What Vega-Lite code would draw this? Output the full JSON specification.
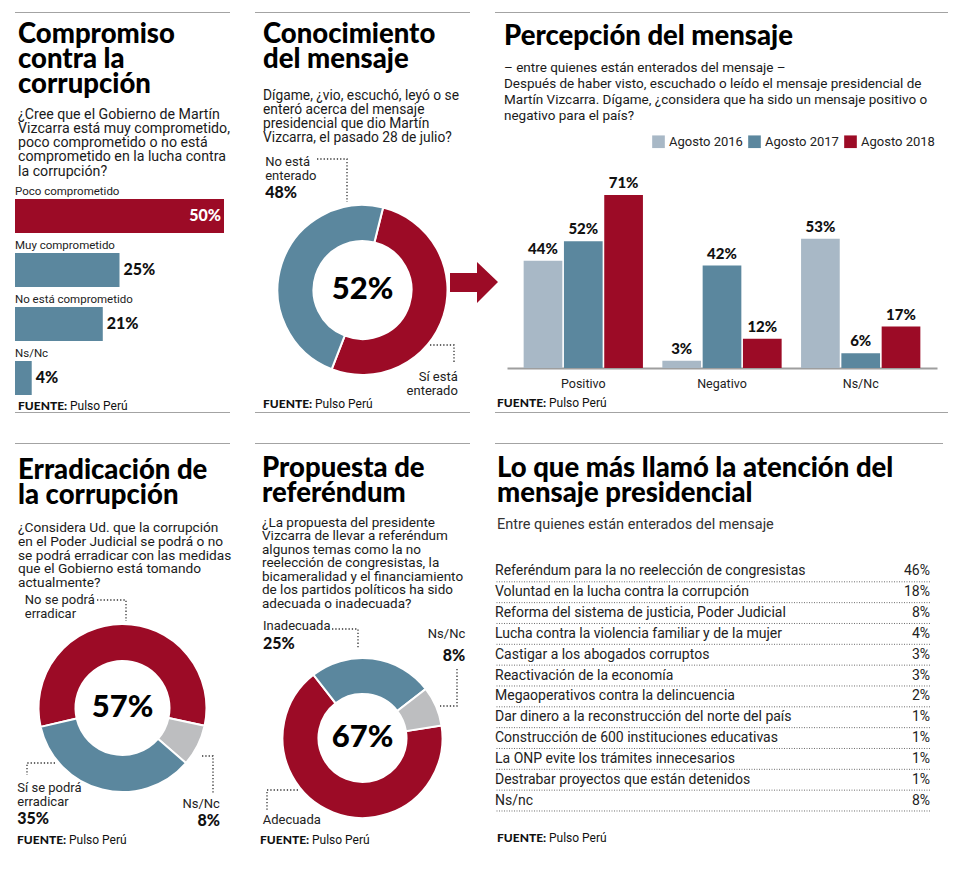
{
  "$schema": "https://vega.github.io/schema/vega-lite/v6.json",
  "background": "white",
  "padding": {"left": 15, "top": 12, "right": 0, "bottom": 0},
  "config": {
    "view": {"stroke": null},
    "font": "Roboto",
    "title": {"font": "Lato", "fontWeight": 900, "fontSize": 27.5, "lineHeight": 25, "color": "#000000", "anchor": "start", "frame": "group", "subtitleFont": "Roboto", "subtitleFontSize": 13.5, "subtitleColor": "#1a1a1a"},
    "text": {"font": "Roboto", "color": "#1a1a1a"},
    "axis": {"title": null, "ticks": false, "grid": false, "domainColor": "#9e9e9e", "domainWidth": 2, "labelFont": "Roboto", "labelFontSize": 12.5, "labelColor": "#222222", "labelPadding": 9, "labelAngle": 0}
  },
  "resolve": {"scale": {"color": "independent", "theta": "independent"}, "legend": {"color": "independent"}},
  "spacing": 30,
  "vconcat": [
    {
      "spacing": 0,
      "resolve": {"scale": {"color": "independent", "theta": "independent"}, "legend": {"color": "independent"}},
      "vconcat": [
        {
          "spacing": 7,
          "resolve": {"scale": {"color": "independent", "theta": "independent"}, "legend": {"color": "independent"}},
          "vconcat": [
            {
              "spacing": 25,
              "hconcat": [
                {"width": 215, "height": 1, "data": {"values": [{}]}, "mark": {"type": "rect", "color": "#a3a3a3"}, "encoding": {}},
                {"width": 215, "height": 1, "data": {"values": [{}]}, "mark": {"type": "rect", "color": "#a3a3a3"}, "encoding": {}},
                {"width": 453, "height": 1, "data": {"values": [{}]}, "mark": {"type": "rect", "color": "#a3a3a3"}, "encoding": {}}
              ]
            },
            {
              "spacing": 25,
              "bounds": "flush",
              "resolve": {"scale": {"color": "independent", "theta": "independent"}, "legend": {"color": "independent"}},
              "hconcat": [
                {
                  "width": 215,
                  "height": 231,
                  "title": {
                    "text": ["Compromiso", "contra la", "corrupción"],
                    "subtitle": ["¿Cree que el Gobierno de Martín", "Vizcarra está muy comprometido,", "poco comprometido o no está", "comprometido en la lucha contra", "la corrupción?"],
                    "subtitleFontSize": 14.2,
                    "subtitlePadding": 9.5,
                    "subtitleLineHeight": 14.3,
                    "offset": 2,
                    "dx": 3
                  },
                  "data": {"values": [
                    {"cat": "Poco comprometido", "pct": 0.50, "hi": "si"},
                    {"cat": "Muy comprometido", "pct": 0.25, "hi": "no"},
                    {"cat": "No está comprometido", "pct": 0.21, "hi": "no"},
                    {"cat": "Ns/Nc", "pct": 0.04, "hi": "no"}
                  ]},
                  "layer": [
                    {
                      "mark": {"type": "bar", "height": 34, "yOffset": 8},
                      "encoding": {
                        "y": {"field": "cat", "type": "nominal", "sort": null, "axis": null, "scale": {"range": [0, 216], "paddingInner": 0, "paddingOuter": 0}},
                        "x": {"field": "pct", "type": "quantitative", "axis": null, "scale": {"domain": [0, 0.5], "range": [0, 209]}},
                        "color": {"field": "hi", "type": "nominal", "legend": null, "scale": {"domain": ["si", "no"], "range": ["#9c0b26", "#5b879e"]}}
                      }
                    },
                    {
                      "mark": {"type": "text", "align": "left", "baseline": "middle", "dy": -16, "fontSize": 11.5, "color": "#222222"},
                      "encoding": {
                        "y": {"field": "cat", "type": "nominal", "sort": null},
                        "x": {"value": 0},
                        "text": {"field": "cat", "type": "nominal"}
                      }
                    },
                    {
                      "transform": [{"filter": "datum.pct >= 0.5"}],
                      "mark": {"type": "text", "align": "right", "baseline": "middle", "dx": -3, "yOffset": 8, "font": "Lato", "fontWeight": 900, "fontSize": 16, "color": "white"},
                      "encoding": {
                        "y": {"field": "cat", "type": "nominal", "sort": null},
                        "x": {"field": "pct", "type": "quantitative"},
                        "text": {"field": "pct", "type": "quantitative", "format": ".0%"}
                      }
                    },
                    {
                      "transform": [{"filter": "datum.pct < 0.5"}],
                      "mark": {"type": "text", "align": "left", "baseline": "middle", "dx": 4, "yOffset": 8, "font": "Lato", "fontWeight": 900, "fontSize": 16, "color": "#111111"},
                      "encoding": {
                        "y": {"field": "cat", "type": "nominal", "sort": null},
                        "x": {"field": "pct", "type": "quantitative"},
                        "text": {"field": "pct", "type": "quantitative", "format": ".0%"}
                      }
                    },
                    {
                      "data": {"values": [{}]},
                      "mark": {"type": "text", "text": "FUENTE:", "font": "Lato", "fontWeight": 900, "fontSize": 12, "align": "left", "baseline": "middle", "dx": 3, "dy": -6, "color": "#111111"},
                      "encoding": {"x": {"value": 0}, "y": {"value": "height"}}
                    },
                    {
                      "data": {"values": [{}]},
                      "mark": {"type": "text", "text": "Pulso Perú", "fontSize": 12, "align": "left", "baseline": "middle", "dx": 55, "dy": -6, "color": "#111111"},
                      "encoding": {"x": {"value": 0}, "y": {"value": "height"}}
                    }
                  ]
                },
                {
                  "width": 215,
                  "height": 218,
                  "title": {
                    "text": ["Conocimiento", "del mensaje"],
                    "subtitle": ["Dígame, ¿vio, escuchó, leyó o se", "enteró acerca del mensaje", "presidencial que dio Martín", "Vizcarra, el pasado 28 de julio?"],
                    "subtitleFontSize": 13.8,
                    "subtitlePadding": 15.5,
                    "subtitleLineHeight": 14,
                    "offset": 11,
                    "dx": 8
                  },
                  "data": {"values": [
                    {"k": "si", "pct": 0.52, "n": 1, "lab": "Sí está\nenterado"},
                    {"k": "no", "pct": 0.48, "n": 2, "lab": "No está\nenterado"}
                  ]},
                  "layer": [
                    {
                      "mark": {"type": "arc", "innerRadius": 49, "outerRadius": 85, "stroke": "white", "strokeWidth": 2},
                      "encoding": {
                        "theta": {"field": "pct", "type": "quantitative", "stack": true, "scale": {"range": [0.245, 6.528]}},
                        "order": {"field": "n", "type": "quantitative"},
                        "color": {"field": "k", "type": "nominal", "legend": null, "scale": {"domain": ["si", "no"], "range": ["#9c0b26", "#5b879e"]}}
                      }
                    },
                    {
                      "mark": {"type": "text", "baseline": "top", "lineBreak": "\n", "fontSize": 13, "lineHeight": 14, "color": "#222222",
                        "align": {"expr": "datum.k === 'si' ? 'right' : 'left'"},
                        "dx": {"expr": "datum.k === 'si' ? 0 : -2"},
                        "dy": {"expr": "datum.k === 'si' ? 51 : -104"}},
                      "encoding": {
                        "theta": {"field": "pct", "type": "quantitative", "stack": true},
                        "order": {"field": "n", "type": "quantitative"},
                        "radius": {"value": 100},
                        "text": {"field": "lab", "type": "nominal"}
                      }
                    },
                    {
                      "mark": {"type": "text", "baseline": "top", "align": "left", "font": "Lato", "fontWeight": 900, "fontSize": 16, "color": "#111111",
                        "dx": {"expr": "datum.k === 'no' ? -2 : 0"},
                        "dy": {"expr": "datum.k === 'no' ? -75 : 0"}},
                      "encoding": {
                        "theta": {"field": "pct", "type": "quantitative", "stack": true},
                        "order": {"field": "n", "type": "quantitative"},
                        "radius": {"value": 100},
                        "text": {"condition": {"test": "datum.k === 'no'", "field": "pct", "type": "quantitative", "format": ".0%"}, "value": ""}
                      }
                    },
                    {
                      "transform": [{"filter": "datum.k === 'si'"}],
                      "mark": {"type": "point", "shape": "M87.5,-17 L114.5,-17 L114.5,-28 L135.5,-8 L114.5,13 L114.5,2 L87.5,2 Z", "size": 4, "filled": true, "color": "#9c0b26", "opacity": 1},
                      "encoding": {}
                    },
                    {
                      "transform": [{"filter": "datum.k === 'si'"}],
                      "mark": {"type": "point", "shape": "M-45.5,-131 L-15.5,-131 L-15.5,-88 M67.5,55 L91.5,55 L91.5,74", "size": 4, "filled": false, "color": "#333333", "strokeWidth": 1.3, "strokeDash": [1.3, 2], "opacity": 1},
                      "encoding": {}
                    },
                    {
                      "transform": [{"filter": "datum.k === 'si'"}],
                      "mark": {"type": "text", "align": "center", "baseline": "middle", "font": "Lato", "fontWeight": 900, "fontSize": 31, "color": "#000000"},
                      "encoding": {
                        "theta": {"field": "pct", "type": "quantitative", "stack": true},
                        "radius": {"value": 0},
                        "text": {"field": "pct", "type": "quantitative", "format": ".0%"}
                      }
                    },
                    {
                      "data": {"values": [{}]},
                      "mark": {"type": "text", "text": "FUENTE:", "font": "Lato", "fontWeight": 900, "fontSize": 12, "align": "left", "baseline": "middle", "dx": 8, "dy": 5, "color": "#111111"},
                      "encoding": {"x": {"value": 0}, "y": {"value": "height"}}
                    },
                    {
                      "data": {"values": [{}]},
                      "mark": {"type": "text", "text": "Pulso Perú", "fontSize": 12, "align": "left", "baseline": "middle", "dx": 60, "dy": 5, "color": "#111111"},
                      "encoding": {"x": {"value": 0}, "y": {"value": "height"}}
                    }
                  ]
                },
                {
                  "width": 453,
                  "height": 187,
                  "title": {
                    "text": "Percepción del mensaje",
                    "subtitle": ["– entre quienes están enterados del mensaje –", "Después de haber visto, escuchado o leído el mensaje presidencial de", "Martín Vizcarra. Dígame, ¿considera que ha sido un mensaje positivo o", "negativo para el país?"],
                    "subtitlePadding": 10,
                    "subtitleLineHeight": 16,
                    "offset": 13,
                    "dx": 9
                  },
                  "data": {"values": [
                    {"resp": "Positivo", "year": "Agosto 2016", "pct": 0.44},
                    {"resp": "Positivo", "year": "Agosto 2017", "pct": 0.52},
                    {"resp": "Positivo", "year": "Agosto 2018", "pct": 0.71},
                    {"resp": "Negativo", "year": "Agosto 2016", "pct": 0.03},
                    {"resp": "Negativo", "year": "Agosto 2017", "pct": 0.42},
                    {"resp": "Negativo", "year": "Agosto 2018", "pct": 0.12},
                    {"resp": "Ns/Nc", "year": "Agosto 2016", "pct": 0.53},
                    {"resp": "Ns/Nc", "year": "Agosto 2017", "pct": 0.06},
                    {"resp": "Ns/Nc", "year": "Agosto 2018", "pct": 0.17}
                  ]},
                  "layer": [
                    {
                      "mark": {"type": "bar"},
                      "encoding": {
                        "x": {"field": "resp", "type": "nominal", "sort": null, "axis": {"orient": "bottom"}, "scale": {"range": [12, 442], "paddingInner": 0.14, "paddingOuter": 0.12}},
                        "xOffset": {"field": "year", "type": "nominal", "scale": {"paddingInner": 0.04}},
                        "y": {"field": "pct", "type": "quantitative", "axis": null, "scale": {"domain": [0, 0.767], "nice": false}},
                        "color": {"field": "year", "type": "nominal", "scale": {"domain": ["Agosto 2016", "Agosto 2017", "Agosto 2018"], "range": ["#a8b8c6", "#5b879e", "#9c0b26"]},
                          "legend": {"orient": "none", "legendX": 157, "legendY": -46, "direction": "horizontal", "title": null, "symbolType": "square", "symbolSize": 160, "symbolStrokeWidth": 0, "symbolOpacity": 1, "labelFont": "Roboto", "labelFontSize": 13, "labelColor": "#222222", "columnPadding": 5, "labelOffset": 4}}
                      }
                    },
                    {
                      "mark": {"type": "text", "baseline": "bottom", "dy": -4, "font": "Lato", "fontWeight": 900, "fontSize": 15, "color": "#111111"},
                      "encoding": {
                        "x": {"field": "resp", "type": "nominal", "sort": null},
                        "xOffset": {"field": "year", "type": "nominal"},
                        "y": {"field": "pct", "type": "quantitative"},
                        "text": {"field": "pct", "type": "quantitative", "format": ".0%"}
                      }
                    },
                    {
                      "data": {"values": [{}]},
                      "mark": {"type": "text", "text": "FUENTE:", "font": "Lato", "fontWeight": 900, "fontSize": 12, "align": "left", "baseline": "middle", "dx": 2, "dy": 35, "color": "#111111"},
                      "encoding": {"x": {"value": 0}, "y": {"value": "height"}}
                    },
                    {
                      "data": {"values": [{}]},
                      "mark": {"type": "text", "text": "Pulso Perú", "fontSize": 12, "align": "left", "baseline": "middle", "dx": 54, "dy": 35, "color": "#111111"},
                      "encoding": {"x": {"value": 0}, "y": {"value": "height"}}
                    }
                  ]
                }
              ]
            }
          ]
        },
        {
          "spacing": 25,
          "hconcat": [
            {"width": 215, "height": 1, "data": {"values": [{}]}, "mark": {"type": "rect", "color": "#a3a3a3"}, "encoding": {}},
            {"width": 215, "height": 1, "data": {"values": [{}]}, "mark": {"type": "rect", "color": "#a3a3a3"}, "encoding": {}},
            {"width": 453, "height": 1, "data": {"values": [{}]}, "mark": {"type": "rect", "color": "#a3a3a3"}, "encoding": {}}
          ]
        }
      ]
    },
    {
      "spacing": 10,
      "resolve": {"scale": {"color": "independent", "theta": "independent"}, "legend": {"color": "independent"}},
      "vconcat": [
        {
          "spacing": 25,
          "hconcat": [
            {"width": 215, "height": 1, "data": {"values": [{}]}, "mark": {"type": "rect", "color": "#a3a3a3"}, "encoding": {}},
            {"width": 215, "height": 1, "data": {"values": [{}]}, "mark": {"type": "rect", "color": "#a3a3a3"}, "encoding": {}},
            {"width": 448, "height": 1, "data": {"values": [{}]}, "mark": {"type": "rect", "color": "#a3a3a3"}, "encoding": {}}
          ]
        },
        {
          "spacing": 25,
          "bounds": "flush",
          "resolve": {"scale": {"color": "independent", "theta": "independent"}, "legend": {"color": "independent"}},
          "hconcat": [
            {
              "width": 215,
              "height": 294,
              "title": {
                "text": ["Erradicación de", "la corrupción"],
                "subtitle": ["¿Considera Ud. que la corrupción", "en el Poder Judicial se podrá o no", "se podrá erradicar con las medidas", "que el Gobierno está tomando", "actualmente?"],
                "subtitleFontSize": 13.7,
                "subtitlePadding": 11.5,
                "subtitleLineHeight": 13.8,
                "offset": -29,
                "dx": 3
              },
              "data": {"values": [
                {"k": "no", "pct": 0.57, "n": 1, "lab": "No se podrá\nerradicar"},
                {"k": "ns", "pct": 0.08, "n": 2, "lab": "Ns/Nc"},
                {"k": "si", "pct": 0.35, "n": 3, "lab": "Sí se podrá\nerradicar"}
              ]},
              "layer": [
                {
                  "mark": {"type": "arc", "innerRadius": 47, "outerRadius": 84, "stroke": "white", "strokeWidth": 2},
                  "encoding": {
                    "theta": {"field": "pct", "type": "quantitative", "stack": true, "scale": {"range": [4.4855, 10.7687]}},
                    "order": {"field": "n", "type": "quantitative"},
                    "color": {"field": "k", "type": "nominal", "legend": null, "scale": {"domain": ["no", "ns", "si"], "range": ["#9c0b26", "#bdbec0", "#5b879e"]}}
                  }
                },
                {
                  "mark": {"type": "text", "baseline": "top", "lineBreak": "\n", "fontSize": 13, "lineHeight": 14, "color": "#222222",
                    "align": {"expr": "datum.k === 'ns' ? 'right' : 'left'"},
                    "dx": {"expr": "datum.k === 'no' ? -97 : datum.k === 'si' ? -81 : 8"},
                    "dy": {"expr": "datum.k === 'no' ? -14 : datum.k === 'si' ? -23 : 45"}},
                  "encoding": {
                    "theta": {"field": "pct", "type": "quantitative", "stack": true},
                    "order": {"field": "n", "type": "quantitative"},
                    "radius": {"value": 100},
                    "text": {"field": "lab", "type": "nominal"}
                  }
                },
                {
                  "mark": {"type": "text", "baseline": "top", "font": "Lato", "fontWeight": 900, "fontSize": 16, "color": "#111111",
                    "align": {"expr": "datum.k === 'ns' ? 'right' : 'left'"},
                    "dx": {"expr": "datum.k === 'si' ? -81 : datum.k === 'ns' ? 8 : 0"},
                    "dy": {"expr": "datum.k === 'si' ? 6 : datum.k === 'ns' ? 60 : 0"}},
                  "encoding": {
                    "theta": {"field": "pct", "type": "quantitative", "stack": true},
                    "order": {"field": "n", "type": "quantitative"},
                    "radius": {"value": 100},
                    "text": {"condition": {"test": "datum.k !== 'no'", "field": "pct", "type": "quantitative", "format": ".0%"}, "value": ""}
                  }
                },
                {
                  "transform": [{"filter": "datum.k === 'no'"}],
                  "mark": {"type": "point", "shape": "M-25.5,-108 L3.5,-108 L3.5,-87 M-67.5,55 L-95.5,55 L-95.5,67 M79.5,48 L90.5,48 L90.5,85", "size": 4, "filled": false, "color": "#333333", "strokeWidth": 1.3, "strokeDash": [1.3, 2], "opacity": 1},
                  "encoding": {}
                },
                {
                  "transform": [{"filter": "datum.k === 'no'"}],
                  "mark": {"type": "text", "align": "center", "baseline": "middle", "font": "Lato", "fontWeight": 900, "fontSize": 31, "color": "#000000"},
                  "encoding": {
                    "theta": {"field": "pct", "type": "quantitative", "stack": true},
                    "radius": {"value": 0},
                    "text": {"field": "pct", "type": "quantitative", "format": ".0%"}
                  }
                },
                {
                  "data": {"values": [{}]},
                  "mark": {"type": "text", "text": "FUENTE:", "font": "Lato", "fontWeight": 900, "fontSize": 12, "align": "left", "baseline": "middle", "dx": 2, "dy": -15, "color": "#111111"},
                  "encoding": {"x": {"value": 0}, "y": {"value": "height"}}
                },
                {
                  "data": {"values": [{}]},
                  "mark": {"type": "text", "text": "Pulso Perú", "fontSize": 12, "align": "left", "baseline": "middle", "dx": 54, "dy": -15, "color": "#111111"},
                  "encoding": {"x": {"value": 0}, "y": {"value": "height"}}
                }
              ]
            },
            {
              "width": 215,
              "height": 294,
              "title": {
                "text": ["Propuesta de", "referéndum"],
                "subtitle": ["¿La propuesta del presidente", "Vizcarra de llevar a referéndum", "algunos temas como la no", "reelección de congresistas, la", "bicameralidad y el financiamiento", "de los partidos políticos ha sido", "adecuada o inadecuada?"],
                "subtitlePadding": 8.5,
                "subtitleLineHeight": 13.5,
                "offset": -49,
                "dx": 7
              },
              "data": {"values": [
                {"k": "ade", "pct": 0.67, "n": 1, "lab": "Adecuada"},
                {"k": "inade", "pct": 0.25, "n": 2, "lab": "Inadecuada"},
                {"k": "ns", "pct": 0.08, "n": 3, "lab": "Ns/Nc"}
              ]},
              "layer": [
                {
                  "mark": {"type": "arc", "innerRadius": 44, "outerRadius": 80, "stroke": "white", "strokeWidth": 2, "yOffset": 30},
                  "encoding": {
                    "theta": {"field": "pct", "type": "quantitative", "stack": true, "scale": {"range": [1.4137, 7.6969]}},
                    "order": {"field": "n", "type": "quantitative"},
                    "color": {"field": "k", "type": "nominal", "legend": null, "scale": {"domain": ["ade", "inade", "ns"], "range": ["#9c0b26", "#5b879e", "#bdbec0"]}}
                  }
                },
                {
                  "mark": {"type": "text", "baseline": "top", "fontSize": 13, "color": "#222222", "yOffset": 30,
                    "align": {"expr": "datum.k === 'ns' ? 'right' : 'left'"},
                    "dx": {"expr": "datum.k === 'inade' ? -112 : datum.k === 'ns' ? 11 : -63"},
                    "dy": {"expr": "datum.k === 'inade' ? -19 : datum.k === 'ns' ? -70 : -17"}},
                  "encoding": {
                    "theta": {"field": "pct", "type": "quantitative", "stack": true},
                    "order": {"field": "n", "type": "quantitative"},
                    "radius": {"value": 100},
                    "text": {"field": "lab", "type": "nominal"}
                  }
                },
                {
                  "mark": {"type": "text", "baseline": "top", "font": "Lato", "fontWeight": 900, "fontSize": 16, "color": "#111111", "yOffset": 30,
                    "align": {"expr": "datum.k === 'ns' ? 'right' : 'left'"},
                    "dx": {"expr": "datum.k === 'inade' ? -112 : datum.k === 'ns' ? 11 : 0"},
                    "dy": {"expr": "datum.k === 'inade' ? -3 : datum.k === 'ns' ? -50 : 0"}},
                  "encoding": {
                    "theta": {"field": "pct", "type": "quantitative", "stack": true},
                    "order": {"field": "n", "type": "quantitative"},
                    "radius": {"value": 100},
                    "text": {"condition": {"test": "datum.k !== 'ade'", "field": "pct", "type": "quantitative", "format": ".0%"}, "value": ""}
                  }
                },
                {
                  "transform": [{"filter": "datum.k === 'ade'"}],
                  "mark": {"type": "point", "shape": "M-30.5,-109 L-4.5,-109 L-4.5,-90 M94.5,-69 L94.5,-32 L77.5,-32 M-64.5,52 L-95.5,52 L-95.5,73", "size": 4, "filled": false, "color": "#333333", "strokeWidth": 1.3, "strokeDash": [1.3, 2], "opacity": 1, "yOffset": 30},
                  "encoding": {}
                },
                {
                  "transform": [{"filter": "datum.k === 'ade'"}],
                  "mark": {"type": "text", "align": "center", "baseline": "middle", "font": "Lato", "fontWeight": 900, "fontSize": 31, "color": "#000000", "yOffset": 30},
                  "encoding": {
                    "theta": {"field": "pct", "type": "quantitative", "stack": true},
                    "radius": {"value": 0},
                    "text": {"field": "pct", "type": "quantitative", "format": ".0%"}
                  }
                },
                {
                  "data": {"values": [{}]},
                  "mark": {"type": "text", "text": "FUENTE:", "font": "Lato", "fontWeight": 900, "fontSize": 12, "align": "left", "baseline": "middle", "dx": 5, "dy": -15, "color": "#111111"},
                  "encoding": {"x": {"value": 0}, "y": {"value": "height"}}
                },
                {
                  "data": {"values": [{}]},
                  "mark": {"type": "text", "text": "Pulso Perú", "fontSize": 12, "align": "left", "baseline": "middle", "dx": 57, "dy": -15, "color": "#111111"},
                  "encoding": {"x": {"value": 0}, "y": {"value": "height"}}
                }
              ]
            },
            {
              "width": 435,
              "height": 250,
              "title": {
                "text": ["Lo que más llamó la atención del", "mensaje presidencial"],
                "subtitle": "Entre quienes están enterados del mensaje",
                "subtitleFontSize": 14.5,
                "subtitleColor": "#333333",
                "subtitlePadding": 10.5,
                "offset": 30,
                "dx": 2
              },
              "data": {"values": [
                {"item": "Referéndum para la no reelección de congresistas", "pct": 0.46},
                {"item": "Voluntad en la lucha contra la corrupción", "pct": 0.18},
                {"item": "Reforma del sistema de justicia, Poder Judicial", "pct": 0.08},
                {"item": "Lucha contra la violencia familiar y de la mujer", "pct": 0.04},
                {"item": "Castigar a los abogados corruptos", "pct": 0.03},
                {"item": "Reactivación de la economía", "pct": 0.03},
                {"item": "Megaoperativos contra la delincuencia", "pct": 0.02},
                {"item": "Dar dinero a la reconstrucción del norte del país", "pct": 0.01},
                {"item": "Construcción de 600 instituciones educativas", "pct": 0.01},
                {"item": "La ONP evite los trámites innecesarios", "pct": 0.01},
                {"item": "Destrabar proyectos que están detenidos", "pct": 0.01},
                {"item": "Ns/nc", "pct": 0.08}
              ]},
              "layer": [
                {
                  "mark": {"type": "rule", "color": "#6e6e6e", "strokeWidth": 1, "strokeDash": [1, 1.5], "yOffset": 10.4},
                  "encoding": {
                    "y": {"field": "item", "type": "nominal", "sort": null, "axis": null, "scale": {"paddingInner": 0, "paddingOuter": 0}}
                  }
                },
                {
                  "mark": {"type": "text", "align": "left", "baseline": "middle", "fontSize": 14, "color": "#222222"},
                  "encoding": {
                    "y": {"field": "item", "type": "nominal", "sort": null},
                    "x": {"value": 0},
                    "text": {"field": "item", "type": "nominal"}
                  }
                },
                {
                  "mark": {"type": "text", "align": "right", "baseline": "middle", "fontSize": 14, "color": "#222222"},
                  "encoding": {
                    "y": {"field": "item", "type": "nominal", "sort": null},
                    "x": {"value": "width"},
                    "text": {"field": "pct", "type": "quantitative", "format": ".0%"}
                  }
                },
                {
                  "data": {"values": [{}]},
                  "mark": {"type": "text", "text": "FUENTE:", "font": "Lato", "fontWeight": 900, "fontSize": 12, "align": "left", "baseline": "middle", "dx": 2, "dy": 27, "color": "#111111"},
                  "encoding": {"x": {"value": 0}, "y": {"value": "height"}}
                },
                {
                  "data": {"values": [{}]},
                  "mark": {"type": "text", "text": "Pulso Perú", "fontSize": 12, "align": "left", "baseline": "middle", "dx": 54, "dy": 27, "color": "#111111"},
                  "encoding": {"x": {"value": 0}, "y": {"value": "height"}}
                }
              ]
            }
          ]
        }
      ]
    }
  ]
}
